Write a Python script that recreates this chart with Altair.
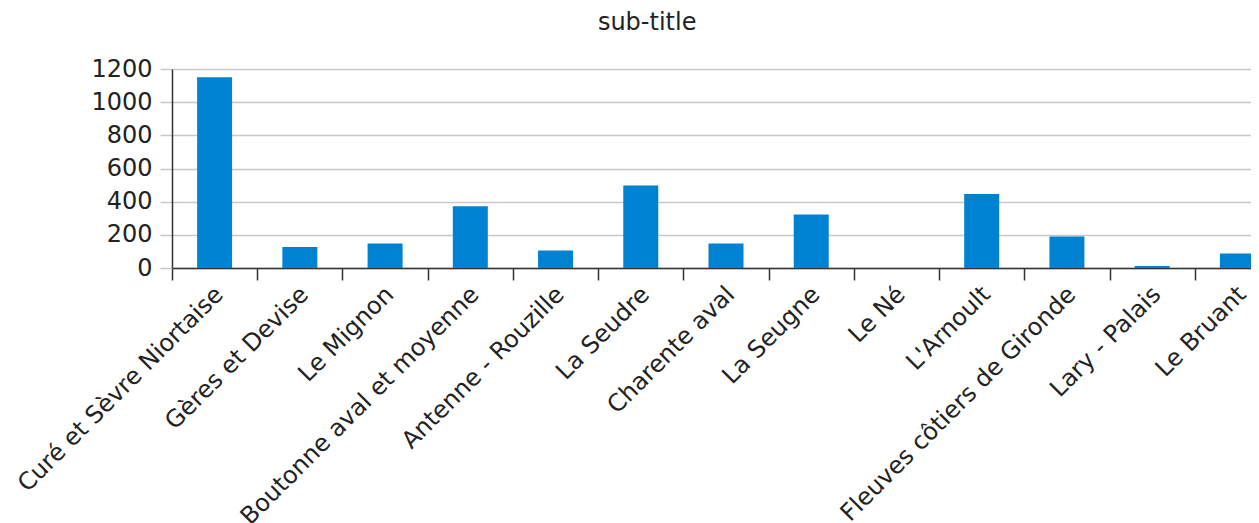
import altair as alt
import pandas as pd

categories = [
    "Curé et Sèvre Niortaise", "Gères et Devise", "Le Mignon",
    "Boutonne aval et moyenne", "Antenne - Rouzille", "La Seudre",
    "Charente aval", "La Seugne", "Le Né", "L'Arnoult",
    "Fleuves côtiers de Gironde", "Lary - Palais", "Le Bruant",
]
values = [1150, 127, 148, 373, 105, 497, 148, 323, 0, 446, 190, 12, 87]
y_ticks = [0, 200, 400, 600, 800, 1000, 1200]

df = pd.DataFrame({"cat": categories, "val": values})

FONT = "DejaVu Sans"

chart = (
    alt.Chart(df, title=alt.TitleParams(
        "sub-title", fontSize=24, font=FONT, fontWeight="normal",
        color="#222222", anchor="middle", frame="bounds", offset=22))
    .mark_bar(size=35, color="#0082d2")
    .encode(
        x=alt.X("cat:N", sort=categories, title=None,
                scale=alt.Scale(paddingInner=0, paddingOuter=0),
                axis=alt.Axis(labelAngle=-45, labelAlign="right", labelBaseline="top",
                              labelFont=FONT, labelFontSize=24, labelColor="#222222",
                              labelLimit=0, labelOffset=-4,
                              tickBand="extent", tickSize=12, tickColor="#333333",
                              tickWidth=1.5, domainColor="#333333", domainWidth=1.5,
                              labelPadding=2, grid=False)),
        y=alt.Y("val:Q", title=None,
                scale=alt.Scale(domain=[0, 1200], nice=False),
                axis=alt.Axis(values=y_ticks, format="d", labelFont=FONT, labelFontSize=24,
                              labelColor="#222222", tickSize=12, tickColor="#c8c8c8",
                              tickWidth=1.5, domainColor="#333333", domainWidth=1.5,
                              gridColor="#c8c8c8", gridWidth=1.5, labelPadding=8)),
    )
    .properties(width=1108, height=199)
    .configure_view(stroke=None)
    .configure(padding={"left": 5, "top": 3, "right": -30, "bottom": 0})
)

chart.save("out.html", embed_options={"renderer": "svg", "actions": False})
